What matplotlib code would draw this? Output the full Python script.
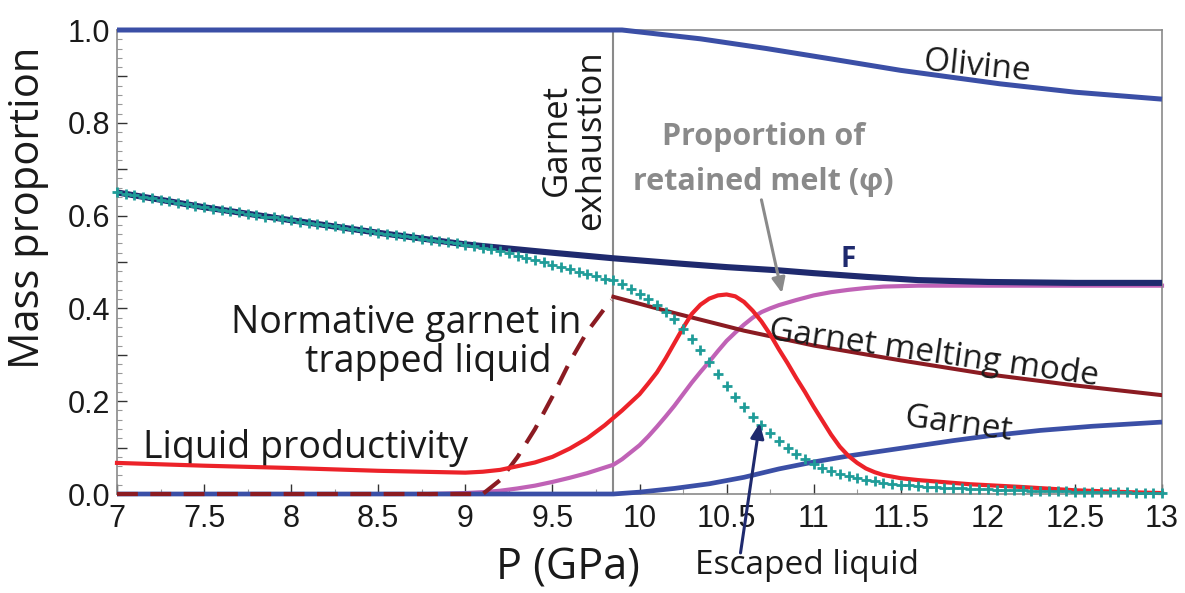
import numpy as np
import matplotlib
matplotlib.use("Agg")
import matplotlib.pyplot as plt
from matplotlib.ticker import MultipleLocator, FixedLocator, FixedFormatter

# ---------------- data ----------------
olivine_p = [7.0, 9.9, 10.35, 10.73, 11.11, 11.5, 12.07, 12.5, 13.0]
olivine_v = [1.0, 1.0, 0.981, 0.960, 0.937, 0.913, 0.884, 0.866, 0.851]

F_p = [7.0, 7.5, 8.0, 8.5, 9.0, 9.5, 9.85, 10.25, 10.5, 10.8, 11.0, 11.3, 11.6, 12.0, 12.5, 13.0]
F_v = [0.650, 0.618, 0.590, 0.563, 0.538, 0.520, 0.508, 0.496, 0.489, 0.482, 0.476, 0.468, 0.461,
       0.457, 0.455, 0.455]

phi_p = [8.8, 9.0, 9.1, 9.2, 9.3, 9.4, 9.5, 9.6, 9.7, 9.85, 9.9, 9.95, 10.0, 10.05, 10.1, 10.15,
         10.2, 10.25, 10.3, 10.35, 10.4, 10.45, 10.5, 10.55, 10.6, 10.65, 10.7, 10.75, 10.8,
         10.9, 11.0, 11.1, 11.2, 11.3, 11.4, 11.6, 13.0]
phi_v = [0.0, 0.002, 0.004, 0.007, 0.012, 0.018, 0.026, 0.035, 0.045, 0.063, 0.075, 0.090, 0.105,
         0.124, 0.145, 0.167, 0.190, 0.215, 0.240, 0.263, 0.285, 0.308, 0.330, 0.348, 0.365,
         0.380, 0.392, 0.400, 0.407, 0.418, 0.428, 0.435, 0.440, 0.444, 0.447, 0.449, 0.449]

prod_p = [7.0, 7.5, 8.0, 8.5, 9.0, 9.1, 9.2, 9.3, 9.4, 9.5, 9.6, 9.7, 9.8, 9.9, 10.0, 10.05,
          10.1, 10.15, 10.2, 10.25, 10.3, 10.35, 10.4, 10.45, 10.5, 10.55, 10.6, 10.65, 10.7,
          10.75, 10.8, 10.85, 10.9, 10.95, 11.0, 11.05, 11.1, 11.15, 11.2, 11.25, 11.3, 11.35,
          11.4, 11.5, 11.6, 11.7, 11.9, 12.2, 12.5, 12.8, 13.0]
prod_v = [0.067, 0.061, 0.056, 0.050, 0.046, 0.048, 0.052, 0.060, 0.068, 0.080, 0.098, 0.120,
          0.148, 0.180, 0.215, 0.238, 0.262, 0.292, 0.325, 0.358, 0.388, 0.408, 0.421, 0.428,
          0.430, 0.426, 0.414, 0.395, 0.372, 0.344, 0.312, 0.282, 0.250, 0.220, 0.188, 0.158,
          0.128, 0.102, 0.082, 0.067, 0.055, 0.047, 0.041, 0.034, 0.030, 0.027, 0.021, 0.015,
          0.008, 0.004, 0.002]

escaped_v = [0.650, 0.647, 0.644, 0.640, 0.637, 0.634, 0.631, 0.627, 0.624, 0.621,
             0.618, 0.615, 0.612, 0.610, 0.607, 0.604, 0.601, 0.598, 0.596, 0.593,
             0.590, 0.587, 0.585, 0.582, 0.579, 0.577, 0.574, 0.571, 0.568, 0.566,
             0.563, 0.560, 0.558, 0.555, 0.553, 0.550, 0.548, 0.545, 0.543, 0.540,
             0.537, 0.534, 0.531, 0.527, 0.523, 0.519, 0.514, 0.509, 0.504, 0.499,
             0.494, 0.489, 0.484, 0.479, 0.474, 0.469, 0.464, 0.462, 0.452, 0.442,
             0.431, 0.420, 0.407, 0.393, 0.377, 0.356, 0.333, 0.310, 0.284, 0.258,
             0.233, 0.210, 0.188, 0.167, 0.148, 0.131, 0.115, 0.100, 0.087, 0.075,
             0.065, 0.056, 0.049, 0.043, 0.038, 0.034, 0.030, 0.027, 0.024, 0.022,
             0.020, 0.019, 0.017, 0.016, 0.015, 0.014, 0.013, 0.012, 0.011, 0.011,
             0.010, 0.009, 0.009, 0.008, 0.008, 0.007, 0.007, 0.006, 0.006, 0.006,
             0.005, 0.005, 0.005, 0.004, 0.004, 0.004, 0.004, 0.003, 0.003, 0.003,
             0.003]
escaped_p = np.round(np.linspace(7.0, 13.0, len(escaped_v)), 2)

garnet_p = [7.0, 9.85, 10.0, 10.2, 10.4, 10.6, 10.8, 11.0, 11.2, 11.4, 11.6, 11.8, 12.0, 12.3, 12.6, 13.0]
garnet_v = [0.0, 0.0, 0.004, 0.012, 0.022, 0.036, 0.054, 0.069, 0.082, 0.093, 0.104, 0.115, 0.125,
            0.137, 0.146, 0.155]

gmode_p = [9.85, 10.2, 10.6, 11.0, 11.5, 12.0, 12.5, 13.0]
gmode_v = [0.425, 0.390, 0.352, 0.320, 0.288, 0.258, 0.234, 0.213]

norm_p = [7.0, 9.1, 9.2, 9.3, 9.4, 9.5, 9.6, 9.7, 9.8, 9.84]
norm_v = [0.0, 0.0, 0.03, 0.08, 0.14, 0.21, 0.285, 0.35, 0.40, 0.418]

exhaustion_p = 9.85

xtick_vals = [7, 7.5, 8, 8.5, 9, 9.5, 10, 10.5, 11, 11.5, 12, 12.5, 13]
xtick_labels = ["7", "7.5", "8", "8.5", "9", "9.5", "10", "10.5", "11", "11.5", "12", "12.5", "13"]
ytick_vals = [0.0, 0.1, 0.2, 0.3, 0.4, 0.5, 0.6, 0.7, 0.8, 0.9, 1.0]
ytick_labels = ["0.0", "", "0.2", "", "0.4", "", "0.6", "", "0.8", "", "1.0"]

# ---------------- style ----------------
blue = "#3b4fa6"
navy = "#1f2a6e"
teal = "#1f9c98"
red = "#ec2229"
violet = "#c062b6"
maroon = "#8b1b22"
gray = "#8a8a8a"
txt = "#1a1a1a"

ann_font = ["Open Sans", "DejaVu Sans"]
tick_font = ["Liberation Sans", "DejaVu Sans"]

fig = plt.figure(figsize=(11.85, 5.93), dpi=100)
ax = fig.add_axes([117 / 1185, 1 - 494 / 593, (1162 - 117) / 1185, (494 - 30) / 593])
ax.set_xlim(7, 13)
ax.set_ylim(0, 1)

for s in ax.spines.values():
    s.set_color(gray)
    s.set_linewidth(1.2)

ax.plot(olivine_p, olivine_v, color=blue, lw=3.6, clip_on=False, zorder=3, solid_capstyle="butt")
ax.plot(phi_p, phi_v, color=violet, lw=3.0, zorder=2.5, clip_on=False)
ax.plot(garnet_p, garnet_v, color=blue, lw=3.4, clip_on=False, zorder=3, solid_capstyle="butt")
ax.plot(norm_p, norm_v, color=maroon, lw=3.0, dashes=(5, 3), clip_on=False, zorder=4)
ax.plot(gmode_p, gmode_v, color=maroon, lw=2.9, zorder=3)
ax.plot(F_p, F_v, color=navy, lw=4.4, zorder=3, solid_capstyle="butt")
ax.plot(prod_p, prod_v, color=red, lw=3.0, zorder=4, clip_on=False)
ax.plot(escaped_p, escaped_v, linestyle="none", marker="+", color=teal,
        markersize=7.5, markeredgewidth=2.0, zorder=5, clip_on=False)

ax.axvline(exhaustion_p, ymin=0, ymax=1, color=gray, lw=1.5, zorder=2)

# ticks
ax.xaxis.set_major_locator(FixedLocator(xtick_vals))
ax.xaxis.set_major_formatter(FixedFormatter(xtick_labels))
ax.xaxis.set_minor_locator(MultipleLocator(0.25))
ax.yaxis.set_major_locator(FixedLocator(ytick_vals))
ax.yaxis.set_major_formatter(FixedFormatter(ytick_labels))
ax.yaxis.set_minor_locator(MultipleLocator(0.02))
ax.tick_params(axis="both", which="major", direction="in", length=7, width=1.0,
               color="#333333", top=False, right=False)
ax.tick_params(axis="both", which="minor", direction="in", length=3.5, width=0.8,
               color="#999999", top=False, right=False)
ax.tick_params(axis="x", which="major", pad=7)
ax.tick_params(axis="y", which="major", pad=5)
for lab in ax.get_xticklabels() + ax.get_yticklabels():
    lab.set_fontfamily(tick_font)
    lab.set_fontsize(22)
    lab.set_color(txt)

# axis labels
fig.text(28 / 1185, 1 - 208 / 593, "Mass proportion", rotation=90, ha="center", va="center",
         fontsize=30, family=ann_font, color=txt)
fig.text(568 / 1185, 1 - 568 / 593, "P (GPa)", ha="center", va="center",
         fontsize=31, family=ann_font, color=txt)

# annotations
ax.text(9.624, 0.763, "Garnet\nexhaustion", rotation=90, ha="center", va="center",
        multialignment="center", fontsize=25, family=ann_font, color=txt, linespacing=1.0)
ax.text(11.94, 0.92, "Olivine", rotation=-5.7, ha="center", va="center",
        rotation_mode="anchor", fontsize=24, family=ann_font, color=txt)
ax.text(10.71, 0.77, "Proportion of", ha="center", va="center", fontsize=22,
        family=ann_font, fontweight="bold", color=gray)
ax.text(10.71, 0.672, "retained melt (φ)", ha="center", va="center", fontsize=22,
        family=ann_font, fontweight="bold", color=gray)
ax.annotate("", xy=(10.818, 0.433), xytext=(10.70, 0.634),
            arrowprops=dict(arrowstyle="-|>,head_length=0.9,head_width=0.4", color=gray, lw=2.2,
                            shrinkA=0, shrinkB=0), zorder=6)
ax.text(11.20, 0.505, "F", ha="center", va="center", fontsize=20, family=ann_font,
        fontweight="bold", color=navy)
ax.text(8.662, 0.347, "Normative garnet in", ha="center", va="baseline", fontsize=27,
        family=ann_font, color=txt)
ax.text(8.79, 0.263, "trapped liquid", ha="center", va="baseline", fontsize=27,
        family=ann_font, color=txt)
ax.text(8.08, 0.078, "Liquid productivity", ha="center", va="baseline", fontsize=27,
        family=ann_font, color=txt)
ax.text(11.685, 0.284, "Garnet melting mode", rotation=-8.0, ha="center", va="baseline",
        rotation_mode="anchor", fontsize=24, family=ann_font, color=txt)
ax.text(11.83, 0.149, "Garnet", rotation=-7.6, ha="center", va="center",
        rotation_mode="anchor", fontsize=24, family=ann_font, color=txt)
ax.text(10.96, -0.155, "Escaped liquid", ha="center", va="center", fontsize=24,
        family=ann_font, color=txt, clip_on=False)
ax.annotate("", xy=(10.69, 0.153), xytext=(10.58, -0.127),
            arrowprops=dict(arrowstyle="-|>,head_length=0.9,head_width=0.4", color=navy, lw=2.2,
                            shrinkA=0, shrinkB=0), annotation_clip=False, zorder=6)

fig.savefig("out.png", dpi=100)
